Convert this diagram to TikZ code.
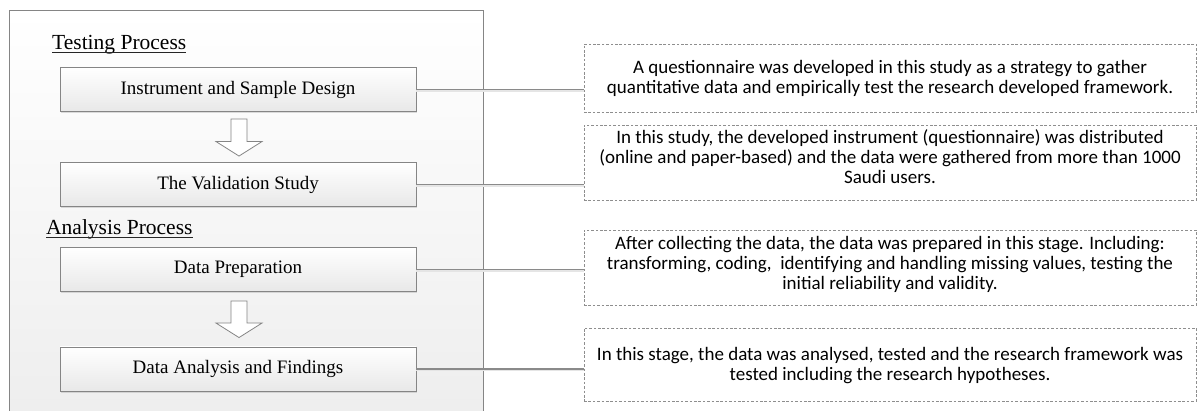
\documentclass[tikz,border=0pt]{standalone}
\usepackage{fontspec}
\setmainfont{Liberation Serif}
\newfontfamily\calib{Carlito}
\usetikzlibrary{calc,shadows}
\definecolor{edgegray}{HTML}{858585}
\definecolor{linegray}{HTML}{8A8A8A}
\definecolor{dashgray}{HTML}{8E8E8E}
\begin{document}
\begin{tikzpicture}[x=1pt,y=-1pt,
  frame/.style={draw=edgegray, line width=0.9pt, top color=white, bottom color=black!7, inner sep=0pt},
  stepbox/.style={draw=edgegray, line width=0.9pt, top color=white, bottom color=black!9,
    minimum width=356pt, minimum height=44pt, inner sep=0pt,
    drop shadow={shadow xshift=1.2pt, shadow yshift=-1.8pt, fill=black!30, opacity=.45},
    font=\fontsize{19}{22}\selectfont},
  heading/.style={anchor=base west, inner sep=0pt, font=\fontsize{21.5}{24}\selectfont},
  uline/.style={draw=black!85, line width=0.9pt},
  blockarrow/.style={draw=edgegray, fill=white, line width=0.8pt, line join=miter},
  dbox/.style={draw=dashgray, line width=0.8pt, dash pattern=on 2.6pt off 1.8pt, fill=white,
    minimum width=612pt, inner sep=0pt},
  dtext/.style={align=center, inner sep=0pt, font=\calib\fontsize{19}{20}\selectfont},
  conn/.style={draw=linegray, line width=1.3pt},
  connshadow/.style={draw=black!10, line width=1.2pt}
]
\useasboundingbox (0,0) rectangle (1200,411);

% container
\node[frame, anchor=north west, minimum width=474pt, minimum height=420pt] (frame) at (9,10) {};

% headings (underlined)
\node[heading] (h1) at (52,50) {Testing Process};
\node[heading] (h2) at (46,235) {Analysis Process};
\draw[uline] ([yshift=-2pt]h1.base west) -- ([yshift=-2pt]h1.base east);
\draw[uline] ([yshift=-2pt]h2.base west) -- ([yshift=-2pt]h2.base east);

% left step boxes
\node[stepbox] (b1) at (238,89.5) {Instrument and Sample Design};
\node[stepbox] (b2) at (238,184.5) {The Validation Study};
\node[stepbox] (b3) at (238,269.5) {Data Preparation};
\node[stepbox] (b4) at (238,369) {Data Analysis and Findings};

% dashed description boxes
\node[dbox, minimum height=68pt] (dA) at (890,78) {};
\node[dbox, minimum height=75pt] (dB) at (890,162.5) {};
\node[dbox, minimum height=75pt] (dC) at (890,267.5) {};
\node[dbox, minimum height=73pt] (dD) at (890,364.5) {};

\node[dtext] (tA) at (890,78) {A questionnaire was developed in this study as a strategy to gather\\quantitative data and empirically test the research developed framework.};
\node[dtext] (tB) at (890,157) {In this study, the developed instrument (questionnaire) was distributed\\(online and paper-based) and the data were gathered from more than 1000\\Saudi users.};
\node[dtext] (tC) at (890,264) {After collecting the data, the data was prepared in this stage. Including:\\transforming, coding,~ identifying and handling missing values, testing the\\initial reliability and validity.};
\node[dtext] (tD) at (890,366) {In this stage, the data was analysed, tested and the research framework was\\tested including the research hypotheses.};

% block arrows
\coordinate (a1s) at ($(b1.south)+(1,7)$);
\coordinate (a1e) at ($(b2.north)+(1,-6)$);
\coordinate (a2s) at ($(b3.south)+(1,9)$);
\coordinate (a2e) at ($(b4.north)+(1,-9)$);
\foreach \s/\e in {a1s/a1e, a2s/a2e}{
  \draw[blockarrow] let \p1=(\s), \p2=(\e) in
    (\x1-8pt,\y1) -- (\x1+8pt,\y1) -- (\x1+8pt,\y2+14.5pt) -- (\x1+23pt,\y2+14.5pt)
    -- (\x1,\y2) -- (\x1-23pt,\y2+14.5pt) -- (\x1-8pt,\y2+14.5pt) -- cycle;
}

% connectors
\foreach \b/\d in {b1/dA, b2/dB, b3/dC, b4/dD}{
  \draw[connshadow] ([yshift=-1.6pt]\b.east) -- ([yshift=-1.6pt]\b.east -| \d.west);
  \draw[conn] (\b.east) -- (\b.east -| \d.west);
}
\end{tikzpicture}
\end{document}
